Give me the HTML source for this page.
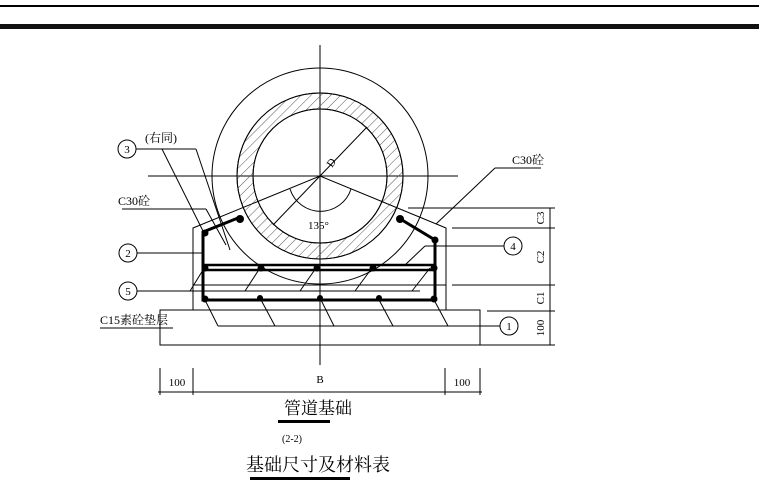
<!DOCTYPE html>
<html><head><meta charset="utf-8"><style>
html,body{margin:0;padding:0;background:#fff;}
svg{display:block;}
text{font-family:"Liberation Serif","Noto Serif CJK SC",serif;fill:#000;}
</style></head><body>
<svg width="759" height="490" viewBox="0 0 759 490" xmlns="http://www.w3.org/2000/svg">
<defs>
<pattern id="h" width="7" height="7" patternUnits="userSpaceOnUse" patternTransform="rotate(45)">
<line x1="0" y1="0" x2="0" y2="7" stroke="#555" stroke-width="1"/>
</pattern>
</defs>
<rect x="0" y="5" width="759" height="2" fill="#000"/>
<rect x="0" y="24" width="759" height="5" fill="#111"/>
<g stroke="#000" fill="none" stroke-width="1">
<line x1="320" y1="45" x2="320" y2="365"/>
<line x1="148" y1="176" x2="458" y2="176"/>
<circle cx="320" cy="176" r="108"/>
<path d="M237,176 a83,83 0 1,0 166,0 a83,83 0 1,0 -166,0 Z M253,176 a67,67 0 1,0 134,0 a67,67 0 1,0 -134,0 Z" fill="url(#h)" fill-rule="evenodd"/>
<circle cx="320" cy="176" r="83"/>
<circle cx="320" cy="176" r="67"/>
<line x1="273" y1="225" x2="367" y2="127"/>
<path d="M290,189 A32,32 0 0,0 351,189"/>
<polyline points="193,310 193,228 320,176 446,228 446,310"/>
<rect x="160" y="310" width="320" height="35"/>
<line x1="550" y1="208" x2="550" y2="345"/>
<line x1="408" y1="208" x2="555" y2="208"/>
<line x1="452" y1="228" x2="555" y2="228"/>
<line x1="452" y1="285" x2="555" y2="285"/>
<line x1="193" y1="285" x2="446" y2="285"/>
<line x1="487" y1="311" x2="555" y2="311"/>
<line x1="480" y1="345" x2="555" y2="345"/>
<line x1="158" y1="392" x2="482" y2="392"/>
<line x1="160" y1="368" x2="160" y2="395"/>
<line x1="193" y1="368" x2="193" y2="395"/>
<line x1="445" y1="368" x2="445" y2="395"/>
<line x1="480" y1="368" x2="480" y2="395"/>
<circle cx="127" cy="149" r="9"/><line x1="136" y1="149" x2="196" y2="149"/>
<line x1="162" y1="149" x2="204" y2="233"/><line x1="196" y1="149" x2="230" y2="250"/>
<circle cx="128" cy="253" r="9"/><line x1="137" y1="253" x2="203" y2="253"/>
<circle cx="128" cy="291" r="9"/><line x1="137" y1="291" x2="255" y2="291"/>
<line x1="190" y1="291" x2="203" y2="270"/><line x1="245" y1="291" x2="260" y2="268"/><line x1="300" y1="291" x2="316" y2="268"/><line x1="355" y1="291" x2="372" y2="268"/><line x1="412" y1="291" x2="430" y2="268"/>
<circle cx="513" cy="246" r="9"/><line x1="504" y1="246" x2="425" y2="246"/><line x1="425" y1="246" x2="405" y2="265"/>
<line x1="190" y1="291" x2="420" y2="291"/>
<circle cx="509" cy="326" r="9"/><line x1="500" y1="326" x2="218" y2="326"/>
<line x1="218" y1="326" x2="205" y2="300"/><line x1="275" y1="326" x2="260" y2="298"/><line x1="334" y1="326" x2="320" y2="298"/><line x1="393" y1="326" x2="378" y2="298"/><line x1="448" y1="326" x2="433" y2="298"/>
<line x1="122" y1="209" x2="206" y2="209"/><line x1="206" y1="209" x2="226" y2="245"/>
<line x1="495" y1="168" x2="541" y2="168"/><line x1="495" y1="168" x2="436" y2="224"/>
<line x1="100" y1="328" x2="173" y2="328"/>
</g>
<g stroke="#000" fill="none" stroke-width="3">
<polyline points="238,218 203,232 203,300 435,300 435,240 402,220"/>
<rect x="203" y="265" width="232" height="5" stroke-width="2.5"/>
</g>
<g fill="#000">
<circle cx="205" cy="233" r="3.5"/><circle cx="240" cy="219" r="4"/><circle cx="400" cy="219" r="4"/><circle cx="435" cy="240" r="3.5"/>
<circle cx="205" cy="268" r="3.5"/><circle cx="261" cy="268" r="3.5"/><circle cx="317" cy="268" r="3.5"/><circle cx="373" cy="268" r="3.5"/><circle cx="434" cy="268" r="3.5"/>
<circle cx="205" cy="299" r="3.5"/><circle cx="260" cy="298" r="3"/><circle cx="320" cy="298" r="3"/><circle cx="379" cy="298" r="3"/><circle cx="434" cy="299" r="3.5"/>
</g>
<g font-size="11" text-anchor="middle">
<text x="127" y="153">3</text><text x="128" y="257">2</text><text x="128" y="295">5</text><text x="513" y="250">4</text><text x="509" y="330">1</text>
</g>
<text x="145" y="142" font-size="12">(右同)</text>
<text x="118" y="205" font-size="12">C30砼</text>
<text x="512" y="164" font-size="12">C30砼</text>
<text x="100" y="324" font-size="12">C15素砼垫层</text>
<text x="308" y="229" font-size="11">135°</text>
<text x="0" y="0" font-size="11" transform="translate(332,168) rotate(-55)">D</text>
<g font-size="11" text-anchor="middle">
<text transform="translate(544,218) rotate(-90)">C3</text>
<text transform="translate(544,257) rotate(-90)">C2</text>
<text transform="translate(544,298) rotate(-90)">C1</text>
<text transform="translate(544,328) rotate(-90)">100</text>
<text x="177" y="386">100</text><text x="320" y="383">B</text><text x="462" y="386">100</text>
</g>
<text x="318" y="414" font-size="17" text-anchor="middle">管道基础</text>
<rect x="278" y="420" width="52" height="3" fill="#000"/>
<text x="292" y="442" font-size="10" text-anchor="middle">(2-2)</text>
<text x="318" y="471" font-size="18" text-anchor="middle">基础尺寸及材料表</text>
<rect x="250" y="477" width="100" height="3" fill="#000"/>
</svg>
</body></html>
